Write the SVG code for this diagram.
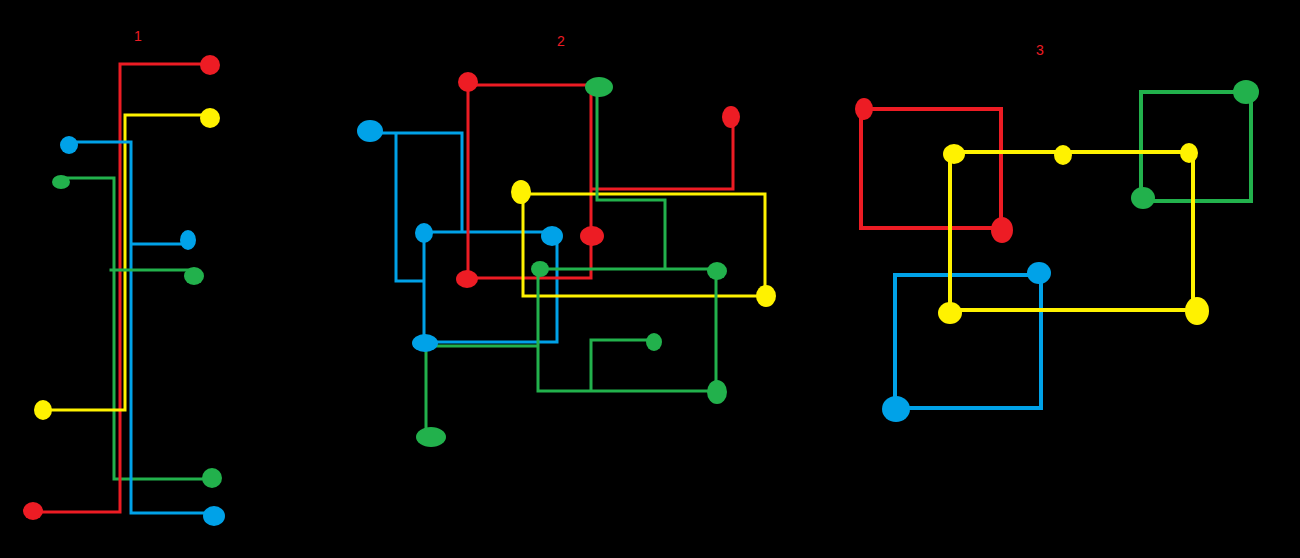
<svg xmlns="http://www.w3.org/2000/svg" width="1300" height="558" viewBox="0 0 1300 558">
<style>
.bg{fill:#000}
.ln{fill:none;stroke-width:3;stroke-linejoin:miter;stroke-linecap:square}
.ln4{stroke-width:4}
.r{stroke:#ED1C24}.y{stroke:#FFF200}.b{stroke:#00A2E8}.g{stroke:#22B14C}
.rf{fill:#ED1C24}.yf{fill:#FFF200}.bf{fill:#00A2E8}.gf{fill:#22B14C}
.lbl{font-family:"Liberation Sans",Arial,sans-serif;font-size:14px;fill:#ED1C24;text-anchor:middle}
</style>
<rect class="bg" x="0" y="0" width="1300" height="558"/>
<g id="labels">
<text class="lbl" x="138" y="41">1</text>
<text class="lbl" x="561" y="46">2</text>
<text class="lbl" x="1040" y="55">3</text>
</g>
<g id="connectors">
<!-- panel 1 -->
<path class="ln g" d="M61 178 H114 V479 H212"/>
<path class="ln r" d="M210 64 H120 V512 H33"/>
<path class="ln y" d="M210 115 H125 V410 H43"/>
<path class="ln b" d="M69 142 H131 V513 H214 M131 244 H188"/>
<path class="ln g" d="M111 270 H194"/>
<!-- panel 2 -->
<path class="ln b" d="M370 133 H462 V232 M424 232 H552 M396 133 V281 H424 M424 233 V343 M425 342 H557 V237"/>
<path class="ln r" d="M468 85 H591 V278 H467 M468 84 V279 M591 189 H733 V117"/>
<path class="ln y" d="M521 194 H765 V296 H523 V194"/>
<path class="ln g" d="M597 87 V200 H665 V269 M540 269 H717 M716 270 V392 M538 269 V391 H717 M538 346 H425 M426 343 V437 M591 391 V340 H654"/>
<!-- panel 3 -->
<path class="ln ln4 r" d="M864 109 H1001 V230 M861 109 V228 H1001"/>
<path class="ln ln4 g" d="M1245 92 H1141 V198 M1251 92 V201 H1143"/>
<path class="ln ln4 b" d="M1039 275 H895 V409 M1041 273 V408 H896"/>
<path class="ln ln4 y" d="M954 152 H1193 V310 M950 154 V310 H1197"/>
</g>
<!-- panel 1 nodes -->
<g id="p1-red-top"><ellipse class="rf" cx="210" cy="65" rx="10" ry="10"/></g>
<g id="p1-yellow-top"><ellipse class="yf" cx="210" cy="118" rx="10" ry="10"/></g>
<g id="p1-blue-left"><ellipse class="bf" cx="69" cy="145" rx="9" ry="9"/></g>
<g id="p1-green-left"><ellipse class="gf" cx="61" cy="182" rx="9" ry="7"/></g>
<g id="p1-blue-mid"><ellipse class="bf" cx="188" cy="240" rx="8" ry="10"/></g>
<g id="p1-green-mid"><ellipse class="gf" cx="194" cy="276" rx="10" ry="9"/></g>
<g id="p1-yellow-left"><ellipse class="yf" cx="43" cy="410" rx="9" ry="10"/></g>
<g id="p1-green-bottom"><ellipse class="gf" cx="212" cy="478" rx="10" ry="10"/></g>
<g id="p1-red-bottom"><ellipse class="rf" cx="33" cy="511" rx="10" ry="9"/></g>
<g id="p1-blue-bottom"><ellipse class="bf" cx="214" cy="516" rx="11" ry="10"/></g>
<!-- panel 2 nodes -->
<g id="p2-red-a"><ellipse class="rf" cx="468" cy="82" rx="10" ry="10"/></g>
<g id="p2-green-b"><ellipse class="gf" cx="599" cy="87" rx="14" ry="10"/></g>
<g id="p2-red-c"><ellipse class="rf" cx="731" cy="117" rx="9" ry="11"/></g>
<g id="p2-blue-n"><ellipse class="bf" cx="370" cy="131" rx="13" ry="11"/></g>
<g id="p2-yellow-l"><ellipse class="yf" cx="521" cy="192" rx="10" ry="12"/></g>
<g id="p2-blue-o"><ellipse class="bf" cx="424" cy="233" rx="9" ry="10"/></g>
<g id="p2-blue-p"><ellipse class="bf" cx="552" cy="236" rx="11" ry="10"/></g>
<g id="p2-red-d"><ellipse class="rf" cx="592" cy="236" rx="12" ry="10"/></g>
<g id="p2-green-f"><ellipse class="gf" cx="540" cy="269" rx="9" ry="8"/></g>
<g id="p2-green-g"><ellipse class="gf" cx="717" cy="271" rx="10" ry="9"/></g>
<g id="p2-red-e"><ellipse class="rf" cx="467" cy="279" rx="11" ry="9"/></g>
<g id="p2-yellow-m"><ellipse class="yf" cx="766" cy="296" rx="10" ry="11"/></g>
<g id="p2-green-k"><ellipse class="gf" cx="654" cy="342" rx="8" ry="9"/></g>
<g id="p2-blue-i"><ellipse class="bf" cx="425" cy="343" rx="13" ry="9"/></g>
<g id="p2-green-h"><ellipse class="gf" cx="717" cy="392" rx="10" ry="12"/></g>
<g id="p2-green-j"><ellipse class="gf" cx="431" cy="437" rx="15" ry="10"/></g>
<!-- panel 3 nodes -->
<g id="p3-red-1"><ellipse class="rf" cx="864" cy="109" rx="9" ry="11"/></g>
<g id="p3-red-2"><ellipse class="rf" cx="1002" cy="230" rx="11" ry="13"/></g>
<g id="p3-green-1"><ellipse class="gf" cx="1246" cy="92" rx="13" ry="12"/></g>
<g id="p3-green-2"><ellipse class="gf" cx="1143" cy="198" rx="12" ry="11"/></g>
<g id="p3-yellow-1"><ellipse class="yf" cx="954" cy="154" rx="11" ry="10"/></g>
<g id="p3-yellow-2"><ellipse class="yf" cx="1063" cy="155" rx="9" ry="10"/></g>
<g id="p3-yellow-3"><ellipse class="yf" cx="1189" cy="153" rx="9" ry="10"/></g>
<g id="p3-yellow-4"><ellipse class="yf" cx="950" cy="313" rx="12" ry="11"/></g>
<g id="p3-yellow-5"><ellipse class="yf" cx="1197" cy="311" rx="12" ry="14"/></g>
<g id="p3-blue-1"><ellipse class="bf" cx="1039" cy="273" rx="12" ry="11"/></g>
<g id="p3-blue-2"><ellipse class="bf" cx="896" cy="409" rx="14" ry="13"/></g>
</svg>
